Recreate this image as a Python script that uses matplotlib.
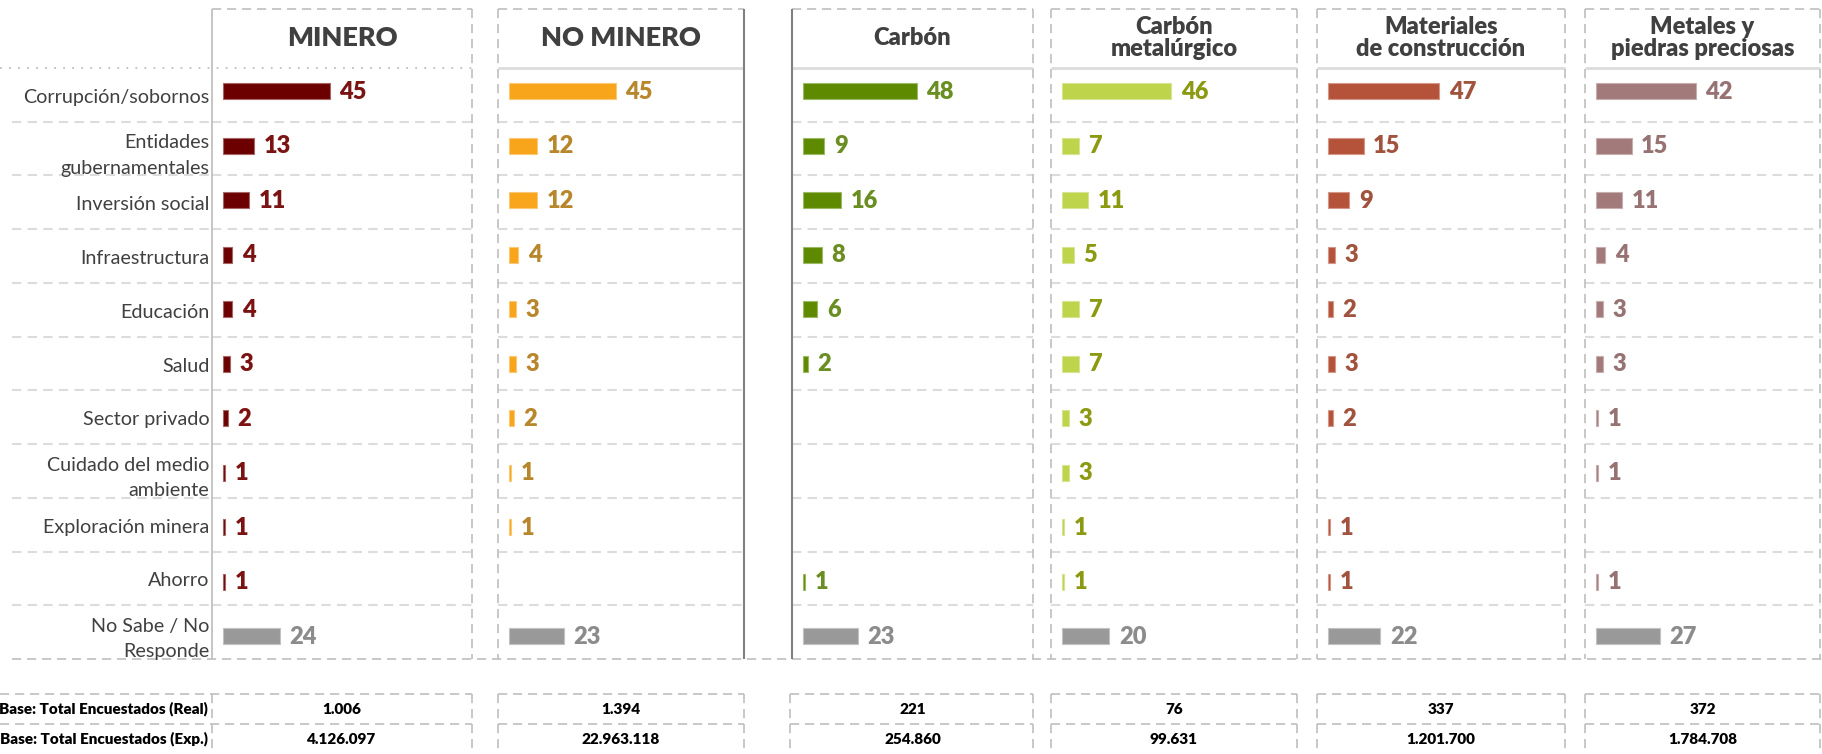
import numpy as np
import matplotlib.pyplot as plt
from matplotlib import colors as mcolors

plt.rcParams['font.family'] = ['Lato', 'DejaVu Sans']

# datos
categorias = ['Corrupción/sobornos', 'Entidades\ngubernamentales', 'Inversión social',
              'Infraestructura', 'Educación', 'Salud', 'Sector privado',
              'Cuidado del medio\nambiente', 'Exploración minera', 'Ahorro',
              'No Sabe / No\nResponde']
minero = [45, 13, 11, 4, 4, 3, 2, 1, 1, 1, 24]
no_minero = [45, 12, 12, 4, 3, 3, 2, 1, 1, None, 23]
carbon = [48, 9, 16, 8, 6, 2, None, None, None, 1, 23]
carbon_met = [46, 7, 11, 5, 7, 7, 3, 3, 1, 1, 20]
materiales = [47, 15, 9, 3, 2, 3, 2, None, 1, 1, 22]
metales = [42, 15, 11, 4, 3, 3, 1, 1, None, 1, 27]
titulos = ['MINERO', 'NO MINERO', 'Carbón', 'Carbón\nmetalúrgico',
           'Materiales\nde construcción', 'Metales y\npiedras preciosas']
base_real = ['1.006', '1.394', '221', '76', '337', '372']
base_exp = ['4.126.097', '22.963.118', '254.860', '99.631', '1.201.700', '1.784.708']

series = [minero, no_minero, carbon, carbon_met, materiales, metales]

# estilos
colores_barra = ['#6C0000', '#F8A51B', '#5E8A00', '#BDD44B', '#B5533A', '#A27A7A']
colores_texto = ['#7B1313', '#B8862B', '#6B8E23', '#8C9A12', '#A2533E', '#977272']
gris_barra, gris_texto = '#999999', '#8C8C8C'

W, H = 1822, 754
panel_x = [(212, 472), (498, 744), (792, 1033), (1051, 1297), (1317, 1565), (1585, 1820)]
tabla_x = [(0, 472), (498, 744), (790, 1033), (1051, 1297), (1317, 1565), (1585, 1820)]
y_top, y_head, y_bot = 9, 68, 659
paso = (y_bot - y_head) / len(categorias)
px_unidad = 2.37

fig = plt.figure(figsize=(W / 100, H / 100), dpi=100)
bg = fig.add_axes([0, 0, 1, 1])
bg.set_xlim(0, W)
bg.set_ylim(H, 0)
bg.axis('off')

DASH = dict(color='#BFBFBF', lw=1.2, ls=(0, (5.5, 3.5)))
ROW = dict(color='#DCDCDC', lw=1.5, ls=(0, (4.5, 3)))


def hline(y, x0, x1, **kw):
    bg.plot([x0, x1], [y, y], solid_capstyle='butt', **kw)


def vline(x, y0, y1, **kw):
    bg.plot([x, x], [y0, y1], solid_capstyle='butt', **kw)


def borde(x, tipo):
    if tipo == 'claro':
        vline(x, y_top, y_bot, color='#C0C0C0', lw=1.3)
    elif tipo == 'oscuro':
        vline(x, y_top, y_bot, color='#808080', lw=1.5)
    else:
        vline(x, y_top, y_bot, **DASH)


izq = ['claro', 'dash', 'oscuro', 'dash', 'dash', 'dash']
der = ['dash', 'oscuro', 'dash', 'dash', 'dash', 'dash']

# columna de etiquetas
hline(y_head, 0, 472, color='#BFBFBF', lw=1.3, ls=(0, (1, 4)))
for k in range(1, len(categorias)):
    hline(y_head + paso * k, 12, 212, **ROW)
hline(y_bot, 12, W, **DASH)

pos = np.arange(len(categorias)) * (54.5 / paso) - 0.07

for i, ((l, r), vals) in enumerate(zip(panel_x, series)):
    hline(y_top, l, r, **DASH)
    if i > 0:
        hline(y_head, l, r, color='#DCDCDC', lw=2)
    for k in range(1, len(categorias)):
        hline(y_head + paso * k, l, r, **ROW)
    borde(l, izq[i])
    borde(r, der[i])

    ax = fig.add_axes([l / W, (H - y_bot) / H, (r - l) / W, (y_bot - y_head) / H])
    ax.patch.set_alpha(0)
    for s in ax.spines.values():
        s.set_visible(False)
    ax.set_xlim(-11 / px_unidad, (r - l - 11) / px_unidad)
    ax.set_ylim(len(categorias) - 0.5, -0.5)
    ax.set_xticks([])

    for j, v in enumerate(vals):
        if v is None:
            continue
        ultimo = j == len(vals) - 1
        c = gris_barra if ultimo else colores_barra[i]
        tc = gris_texto if ultimo else colores_texto[i]
        borde_c = mcolors.to_hex(0.6 * np.array(mcolors.to_rgb(c)) + 0.4)
        ax.barh(pos[j], v, height=0.3, color=c, edgecolor=borde_c, linewidth=0.8)
        ax.annotate(str(v), (v, pos[j]), xytext=(7, -0.5), textcoords='offset points',
                    ha='left', va='center', fontsize=17, fontweight='heavy', color=tc)

    if i == 0:
        ax.set_yticks(np.arange(len(categorias)) + 0.02)
        ax.set_yticklabels(categorias, fontsize=14.2, color='#404040', linespacing=1.6)
        ax.tick_params(axis='y', length=0, pad=2)
    else:
        ax.set_yticks([])

    tam = 19.5 if i < 2 else 17
    fig.text((l + r) / 2 / W, 1 - 38 / H, titulos[i], ha='center', va='center',
             fontsize=tam, fontweight='heavy', color='#404040', linespacing=1.05)

# tabla base
for i, (l, r) in enumerate(tabla_x):
    hline(694, l, r, **DASH)
    hline(724, l, r, **DASH)
    if i > 0:
        vline(l, 694, H, **DASH)
    vline(r, 694, H, **DASH)
vline(212, 694, H, **DASH)

bg.text(208, 709, 'Base: Total Encuestados (Real)', ha='right', va='center',
        fontsize=11, fontweight='heavy', color='black')
bg.text(208, 739, 'Base: Total Encuestados (Exp.)', ha='right', va='center',
        fontsize=11, fontweight='heavy', color='black')
for (l, r), a, b in zip(panel_x, base_real, base_exp):
    bg.text((l + r) / 2, 709, a, ha='center', va='center', fontsize=11,
            fontweight='heavy', color='black')
    bg.text((l + r) / 2, 739, b, ha='center', va='center', fontsize=11,
            fontweight='heavy', color='black')

fig.savefig('out.png', dpi=100)
